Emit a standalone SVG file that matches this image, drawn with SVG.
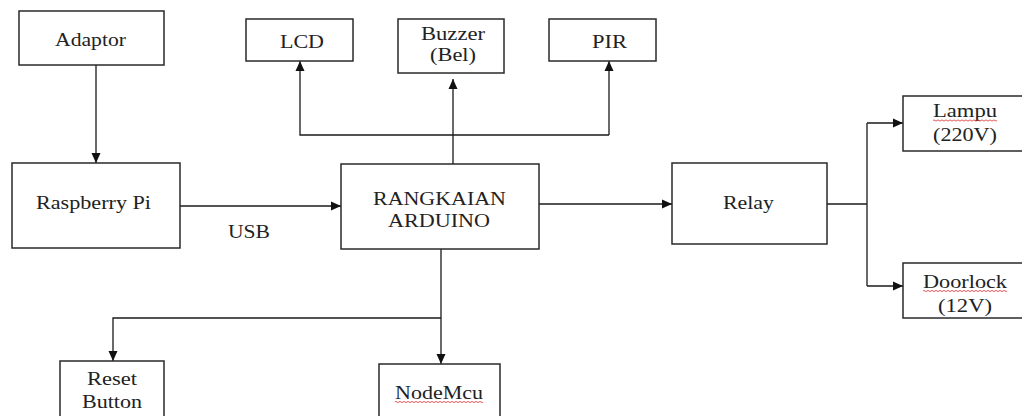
<svg xmlns="http://www.w3.org/2000/svg" width="1022" height="416" viewBox="0 0 1022 416">
<style>
.box{fill:#fff;stroke:#2a2a2a;stroke-width:1.5}
.ln{fill:none;stroke:#1a1a1a;stroke-width:1.3}
.t{font-family:'Liberation Serif','Times New Roman','DejaVu Serif',serif;font-size:19px;fill:#222;text-anchor:middle}
.sq{fill:none;stroke:#e03030;stroke-width:0.8}
</style>
<defs>
<marker id="ah" markerUnits="userSpaceOnUse" markerWidth="10" markerHeight="10" refX="10" refY="5" orient="auto">
<path d="M0,0.5 L10,5 L0,9.5 z" fill="#111"/>
</marker>
</defs>
<rect width="1022" height="416" fill="#fff"/>
<g id="connectors">
<path class="ln" d="M96,65 V163" marker-end="url(#ah)"/>
<path class="ln" d="M180,206 H341" marker-end="url(#ah)"/>
<path class="ln" d="M453,164 V79" marker-end="url(#ah)"/>
<path class="ln" d="M609,135 H300 V61" marker-end="url(#ah)"/>
<path class="ln" d="M609,135 V61" marker-end="url(#ah)"/>
<path class="ln" d="M539,204 H672" marker-end="url(#ah)"/>
<path class="ln" d="M827,204 H867 M867,123 V286"/>
<path class="ln" d="M867,123 H903" marker-end="url(#ah)"/>
<path class="ln" d="M867,286 H903" marker-end="url(#ah)"/>
<path class="ln" d="M441,249 V364" marker-end="url(#ah)"/>
<path class="ln" d="M441,318 H113 V361" marker-end="url(#ah)"/>
</g>
<g id="adaptor"><rect class="box" x="19" y="11" width="145" height="54"/><text class="t" x="90.5" y="46" textLength="71" lengthAdjust="spacingAndGlyphs">Adaptor</text></g>
<g id="lcd"><rect class="box" x="246" y="19" width="107" height="42"/><text class="t" x="302" y="48" textLength="44" lengthAdjust="spacingAndGlyphs">LCD</text></g>
<g id="buzzer"><rect class="box" x="398" y="19" width="106" height="54"/><text class="t" x="453" y="40" textLength="64" lengthAdjust="spacingAndGlyphs">Buzzer</text><text class="t" x="453" y="61" textLength="46" lengthAdjust="spacingAndGlyphs">(Bel)</text></g>
<g id="pir"><rect class="box" x="549" y="19" width="107" height="42"/><text class="t" x="609.5" y="48" textLength="35" lengthAdjust="spacingAndGlyphs">PIR</text></g>
<g id="raspberry"><rect class="box" x="12" y="163" width="168" height="85"/><text class="t" x="93.5" y="209" textLength="115" lengthAdjust="spacingAndGlyphs">Raspberry Pi</text></g>
<g id="usb-label"><text class="t" x="249" y="238" textLength="42" lengthAdjust="spacingAndGlyphs">USB</text></g>
<g id="arduino"><rect class="box" x="341" y="164" width="198" height="85"/><text class="t" x="439.5" y="205" textLength="133" lengthAdjust="spacingAndGlyphs">RANGKAIAN</text><text class="t" x="439" y="227" textLength="102" lengthAdjust="spacingAndGlyphs">ARDUINO</text></g>
<g id="relay"><rect class="box" x="672" y="163" width="155" height="81"/><text class="t" x="748.5" y="209" textLength="51" lengthAdjust="spacingAndGlyphs">Relay</text></g>
<g id="lampu"><rect class="box" x="903" y="96" width="130" height="55"/><text class="t" x="965" y="117" textLength="64" lengthAdjust="spacingAndGlyphs">Lampu</text><path class="sq" d="M933,120.5 q1,-1.2 2,0 t2,0 t2,0 t2,0 t2,0 t2,0 t2,0 t2,0 t2,0 t2,0 t2,0 t2,0 t2,0 t2,0 t2,0 t2,0 t2,0 t2,0 t2,0 t2,0 t2,0 t2,0 t2,0 t2,0 t2,0 t2,0 t2,0 t2,0 t2,0 t2,0 t2,0 t2,0"/><text class="t" x="965" y="141" textLength="64" lengthAdjust="spacingAndGlyphs">(220V)</text></g>
<g id="doorlock"><rect class="box" x="903" y="263" width="130" height="55"/><text class="t" x="965" y="288" textLength="84" lengthAdjust="spacingAndGlyphs">Doorlock</text><path class="sq" d="M923,291 q1,-1.2 2,0 t2,0 t2,0 t2,0 t2,0 t2,0 t2,0 t2,0 t2,0 t2,0 t2,0 t2,0 t2,0 t2,0 t2,0 t2,0 t2,0 t2,0 t2,0 t2,0 t2,0 t2,0 t2,0 t2,0 t2,0 t2,0 t2,0 t2,0 t2,0 t2,0 t2,0 t2,0 t2,0 t2,0 t2,0 t2,0 t2,0 t2,0 t2,0 t2,0 t2,0 t2,0"/><text class="t" x="965" y="312" textLength="54" lengthAdjust="spacingAndGlyphs">(12V)</text></g>
<g id="reset"><rect class="box" x="60" y="361" width="104" height="70"/><text class="t" x="112" y="385" textLength="50" lengthAdjust="spacingAndGlyphs">Reset</text><text class="t" x="112" y="408" textLength="60" lengthAdjust="spacingAndGlyphs">Button</text></g>
<g id="nodemcu"><rect class="box" x="379" y="364" width="121" height="70"/><text class="t" x="439" y="399" textLength="88" lengthAdjust="spacingAndGlyphs">NodeMcu</text><path class="sq" d="M395,402 q1,-1.2 2,0 t2,0 t2,0 t2,0 t2,0 t2,0 t2,0 t2,0 t2,0 t2,0 t2,0 t2,0 t2,0 t2,0 t2,0 t2,0 t2,0 t2,0 t2,0 t2,0 t2,0 t2,0 t2,0 t2,0 t2,0 t2,0 t2,0 t2,0 t2,0 t2,0 t2,0 t2,0 t2,0 t2,0 t2,0 t2,0 t2,0 t2,0 t2,0 t2,0 t2,0 t2,0 t2,0 t2,0"/></g>
</svg>
